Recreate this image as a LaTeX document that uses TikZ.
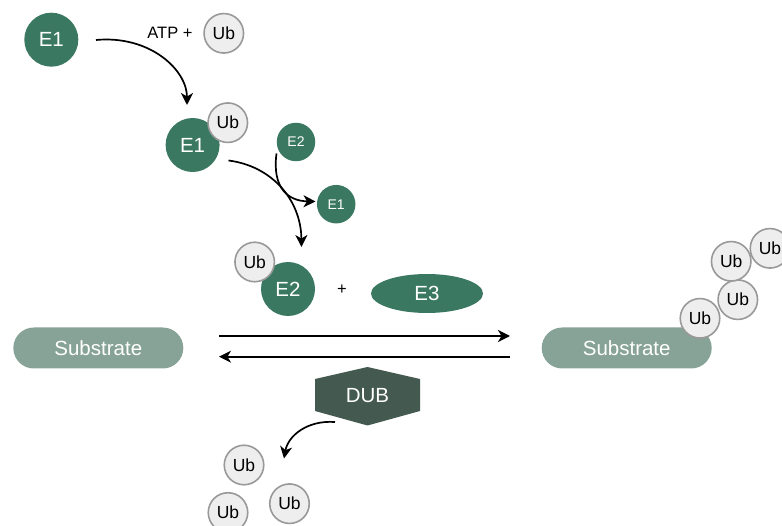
\documentclass[tikz,border=0pt]{standalone}
\usepackage{fontspec}
\setmainfont{Liberation Sans}
\usetikzlibrary{arrows.meta,shapes.geometric}
\definecolor{enzc}{HTML}{3A7862}
\definecolor{subc}{HTML}{87A398}
\definecolor{dubc}{HTML}{44594F}
\definecolor{ubfill}{HTML}{EEEEEE}
\definecolor{ubdraw}{HTML}{999999}
\tikzset{
  enz/.style={circle, fill=enzc, text=white, minimum size=54pt, inner sep=0pt, font=\fontsize{20.5}{20.5}\selectfont},
  enzs/.style={circle, fill=enzc, text=white, minimum size=38.5pt, inner sep=0pt, font=\fontsize{14}{14}\selectfont},
  ub/.style={circle, fill=ubfill, draw=ubdraw, line width=1.6pt, minimum size=39.5pt, inner sep=0pt, font=\fontsize{17.5}{17.5}\selectfont},
  subbox/.style={rectangle, rounded corners=20.5pt, fill=subc, text=white, minimum width=170pt, minimum height=41pt, inner sep=0pt, font=\fontsize{20.5}{20.5}\selectfont},
  conn/.style={line width=1.7pt, -{Stealth[length=12pt,width=12pt,inset=3.5pt]}},
  plain/.style={font=\fontsize{16.5}{16.5}\selectfont, inner sep=0pt}
}
\begin{document}
\begin{tikzpicture}[x=1pt,y=-1pt]
\useasboundingbox (0,0) rectangle (782,526);
% top
\node[enz] (e1a) at (51.3,39.7) {E1};
\node[plain] (atp) at (170,33) {ATP +};
\node[ub] (ub1) at (223.8,33.3) {Ub};
\node[enz] (e1b) at (192.6,145) {E1};
\node[ub] (ub2) at (227.8,122.7) {Ub};
\node[enzs] (e2s) at (296,142) {E2};
\node[enzs] (e1s) at (336.2,204.2) {E1};
\node[enz] (e2b) at (288,289) {E2};
\node[ub] (ub3) at (254.7,262) {Ub};
\node[plain] (plus) at (342,290) {+};
\node[ellipse, fill=enzc, text=white, minimum width=112pt, minimum height=39pt, inner sep=0pt, font=\fontsize{20.5}{20.5}\selectfont] (e3) at (427,293.5) {E3};
% substrates
\node[subbox] (subl) at (98.3,348) {Substrate};
\node[subbox] (subr) at (626.7,348) {Substrate};
\node[ub] (c1) at (700,318.3) {Ub};
\node[ub] (c2) at (737.8,299.7) {Ub};
\node[ub] (c3) at (731.2,261.3) {Ub};
\node[ub] (c4) at (770,248.3) {Ub};
% DUB
\fill[dubc] (315,379) -- (367.5,367) -- (420,379) -- (420,411) -- (367.5,425.5) -- (315,411) -- cycle;
\node[font=\fontsize{20.5}{20.5}\selectfont, text=white, inner sep=0pt] (dub) at (367.5,396) {DUB};
% bottom Ub
\node[ub] (f1) at (244,465) {Ub};
\node[ub] (f2) at (289.5,503.7) {Ub};
\node[ub] (f3) at (228,512.5) {Ub};
% connectors
\coordinate (a1s) at (96,40);
\coordinate (a1e) at (187,105);
\draw[conn] (a1s) .. controls (150,35) and (187,70) .. (a1e);
\coordinate (a2s) at (228.5,160.5);
\coordinate (a2e) at (301.5,247);
\draw[conn] (a2s) .. controls (272,166) and (301,200) .. (a2e);
\coordinate (a3s) at (276.5,153.5);
\coordinate (a3e) at (315.5,201.5);
\draw[conn] (a3s) .. controls (272,188) and (288,201) .. (a3e);
\coordinate (r1s) at (219,336);
\coordinate (r1e) at (510,336);
\draw[conn] (r1s) -- (r1e);
\coordinate (r2s) at (510,356.7);
\coordinate (r2e) at (219,356.7);
\draw[conn] (r2s) -- (r2e);
\coordinate (d1s) at (335,422);
\coordinate (d1e) at (284,458.5);
\draw[conn] (d1s) .. controls (307,420) and (288,436) .. (d1e);
\end{tikzpicture}
\end{document}
